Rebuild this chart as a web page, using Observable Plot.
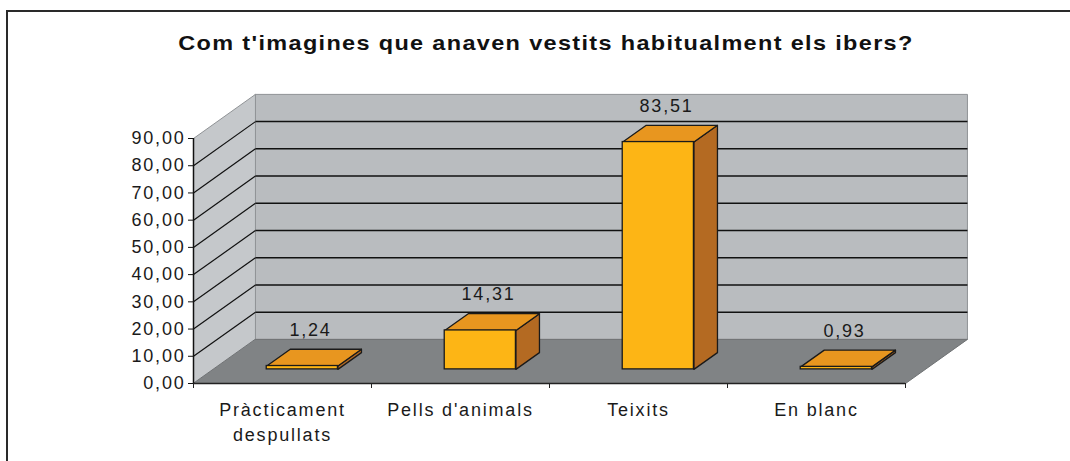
<!DOCTYPE html>
<html><head><meta charset="utf-8">
<script src="https://cdn.jsdelivr.net/npm/d3@7"></script>
<script src="https://cdn.jsdelivr.net/npm/@observablehq/plot@0.6"></script>
<style>
html,body{margin:0;padding:0;background:#fff;}
#wrap{position:relative;width:1070px;height:461px;overflow:hidden;background:#fff;font-family:"Liberation Sans",Arial,sans-serif;}
#frame{position:absolute;left:6px;top:10px;width:1200px;height:600px;border:2px solid #2a2a2a;}
#title{position:absolute;left:0;top:31px;width:1092px;text-align:center;font-weight:bold;font-size:21px;line-height:24px;color:#111;white-space:nowrap;transform-origin:546px 50%;}
#chart{position:absolute;left:0;top:70px;}
#chart svg text{letter-spacing:1.8px;}
</style></head><body>
<div id="wrap"><div id="frame"></div><div id="title"></div><div id="chart"></div></div>
<script>
const title = "Com t'imagines que anaven vestits habitualment els ibers?";
const categories = ["Pràcticament\ndespullats", "Pells d'animals", "Teixits", "En blanc"];
const values = [1.24, 14.31, 83.51, 0.93];
const yTicks = [0, 10, 20, 30, 40, 50, 60, 70, 80, 90];
const yMax = 90;

// oblique "3D" projection (depth 0 = front, 1 = back wall)
const DX = 0.348, DY = 16.2;
const FRONT = 0.32, BACK = 0.70, HALF = 0.2;
const proj = (x, y, d) => ({x: x + d * DX, y: y + d * DY});
const n = categories.length;
const cx = i => i + 0.5;
const fmt = v => v.toFixed(2).replace(".", ",");
const quad = (pts, k) => pts.map(p => ({...p, k}));

// title: slight letter spacing, then stretch horizontally to the reference width
const tEl = document.getElementById("title");
tEl.textContent = title;
const ctx = document.createElement("canvas").getContext("2d");
ctx.font = "bold 21px 'Liberation Sans'";
const LS = 1.2;
const tw = ctx.measureText(title).width + LS * (title.length - 1);
tEl.style.letterSpacing = LS + "px";
tEl.style.transform = "scaleX(" + Math.max(0.8, 734 / tw) + ")";

const bars = values.map((v, i) => ({i, v, label: categories[i]}));

const sideWall = quad([proj(0,0,0), proj(0,yMax,0), proj(0,yMax,1), proj(0,0,1)], "side");
const backWall = quad([proj(0,0,1), proj(n,0,1), proj(n,yMax,1), proj(0,yMax,1)], "back");
const floorQ = quad([proj(0,0,0), proj(n,0,0), proj(n,0,1), proj(0,0,1)], "floor");
const grid = yTicks.filter(v => v > 0 && v < yMax);

const fronts = bars.map(d => ({
  x1: proj(cx(d.i) - HALF, 0, FRONT).x, x2: proj(cx(d.i) + HALF, 0, FRONT).x,
  y1: proj(0, 0, FRONT).y, y2: proj(0, d.v, FRONT).y
}));
const tops = bars.flatMap(d => quad([
  proj(cx(d.i) - HALF, d.v, FRONT), proj(cx(d.i) + HALF, d.v, FRONT),
  proj(cx(d.i) + HALF, d.v, BACK), proj(cx(d.i) - HALF, d.v, BACK)], d.i));
const sides = bars.flatMap(d => quad([
  proj(cx(d.i) + HALF, 0, FRONT), proj(cx(d.i) + HALF, 0, BACK),
  proj(cx(d.i) + HALF, d.v, BACK), proj(cx(d.i) + HALF, d.v, FRONT)], d.i));

const poly = (data, fill, stroke, sw) => Plot.line(data, {x: "x", y: "y", z: "k", fill, stroke, strokeWidth: sw, curve: "linear-closed"});

const chart = Plot.plot({
  width: 1070, height: 391,
  marginLeft: 193, marginRight: 165, marginTop: 68, marginBottom: 78,
  x: {domain: [0, n], label: null},
  y: {domain: [0, yMax], label: null},
  style: {fontFamily: "'Liberation Sans', Arial, sans-serif", fontSize: "18px", color: "#1a1a1a", background: "transparent", overflow: "visible"},
  marks: [
    poly(backWall, "#b9bcbf", "#8f9295", 1),
    poly(sideWall, "#c5c8cb", "#8f9295", 1),
    poly(floorQ, "#808385", "#6f7274", 1),
    Plot.link(grid, {x1: v => proj(0, v, 1).x, y1: v => proj(0, v, 1).y, x2: v => proj(n, v, 1).x, y2: v => proj(n, v, 1).y, stroke: "#111", strokeWidth: 1.5}),
    Plot.link(grid, {x1: v => proj(0, v, 0).x, y1: v => proj(0, v, 0).y, x2: v => proj(0, v, 1).x, y2: v => proj(0, v, 1).y, stroke: "#111", strokeWidth: 1.2}),
    Plot.ruleX([0], {y1: 0, y2: yMax, stroke: "#111", strokeWidth: 1.5}),
    Plot.ruleY([0], {x1: 0, x2: n, stroke: "#222", strokeWidth: 1.5}),
    Plot.axisY({ticks: yTicks, tickFormat: fmt, tickSize: 5, tickPadding: 3, stroke: "#111"}),
    Plot.axisX({ticks: d3.range(0, n + 1), tickFormat: () => "", tickSize: 5, stroke: "#222"}),
    poly(sides, "#b46a22", "#1a1a1a", 1.3),
    poly(tops, "#e8961f", "#1a1a1a", 1.3),
    Plot.rect(fronts, {x1: "x1", x2: "x2", y1: "y1", y2: "y2", fill: "#fdb515", stroke: "#1a1a1a", strokeWidth: 1.3}),
    Plot.text(bars, {x: d => proj(cx(d.i), 0, (FRONT + BACK) / 2).x - 0.02, y: d => proj(0, d.v, BACK).y, text: d => fmt(d.v), dy: -19, lineAnchor: "middle", fill: "#1a1a1a"}),
    Plot.text(bars, {x: d => cx(d.i), y: 0, text: "label", dy: 15, lineAnchor: "top", lineHeight: 1.39, fill: "#1a1a1a"})
  ]
});
document.getElementById("chart").appendChild(chart);
</script>
</body></html>
